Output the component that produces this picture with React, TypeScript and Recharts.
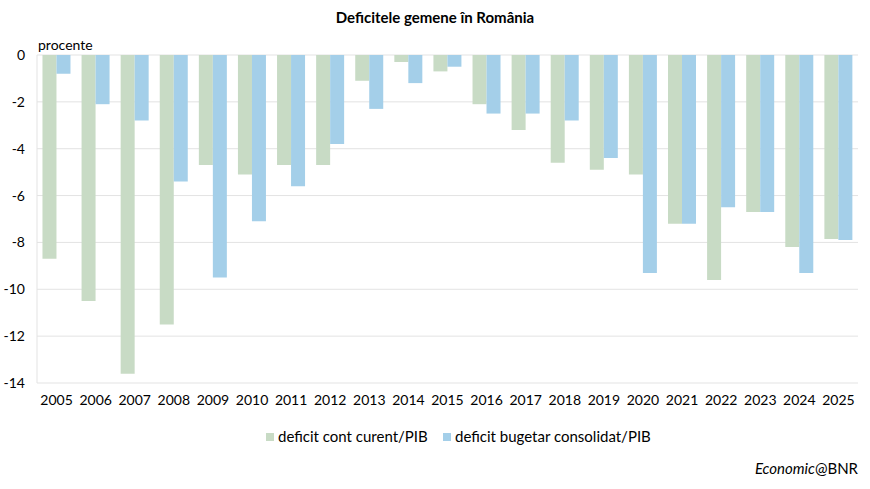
import React from "react";
import { BarChart, Bar, XAxis, YAxis, CartesianGrid } from "recharts";

const years = ["2005","2006","2007","2008","2009","2010","2011","2012","2013","2014","2015","2016","2017","2018","2019","2020","2021","2022","2023","2024","2025"];
const contCurent = [-8.7,-10.5,-13.6,-11.5,-4.7,-5.1,-4.7,-4.7,-1.1,-0.3,-0.7,-2.1,-3.2,-4.6,-4.9,-5.1,-7.2,-9.6,-6.7,-8.2,-7.85];
const bugetar = [-0.8,-2.1,-2.8,-5.4,-9.5,-7.1,-5.6,-3.8,-2.3,-1.2,-0.5,-2.5,-2.5,-2.8,-4.4,-9.3,-7.2,-6.5,-6.7,-9.3,-7.9];
const yTicks = [0,-2,-4,-6,-8,-10,-12,-14];
const seriesNames = ["deficit cont curent/PIB", "deficit bugetar consolidat/PIB"];
const colors = ["#c8dbc5", "#a4cfe9"];

const data = years.map((y, i) => ({ year: y, cc: contCurent[i], bg: bugetar[i] }));

const FONT = "Lato, 'Open Sans', sans-serif";

export default function App() {
  return (
    <div style={{ position: "absolute", left: 0, top: 0, width: 870, height: 489, background: "#fff", fontFamily: FONT, color: "#000" }}>
      <div style={{ position: "absolute", top: 8, left: 0, width: 870, textAlign: "center", fontWeight: 700, fontSize: 15 }}>
        Deficitele gemene în România
      </div>
      <div style={{ position: "absolute", top: 36, left: 38, fontSize: 14 }}>procente</div>
      <BarChart width={870} height={413} data={data} margin={{ top: 55, right: 12, left: 0, bottom: 0 }} barCategoryGap="14%" barGap={0}>
        <CartesianGrid vertical={false} stroke="#e3e3e3" />
        <XAxis dataKey="year" axisLine={false} tickLine={false} height={30} tick={{ fontSize: 14, fill: "#000", fontFamily: FONT }} tickMargin={6} interval={0} />
        <YAxis domain={[-14, 0]} ticks={yTicks} width={37} axisLine={{ stroke: "#e3e3e3" }} tickLine={false} tick={{ fontSize: 14, fill: "#000", fontFamily: FONT }} tickMargin={6} />
        <Bar dataKey="cc" name={seriesNames[0]} fill={colors[0]} isAnimationActive={false} />
        <Bar dataKey="bg" name={seriesNames[1]} fill={colors[1]} isAnimationActive={false} />
      </BarChart>
      <div style={{ position: "absolute", top: 427, left: 0, width: 870, fontSize: 15 }}>
        <div style={{ position: "absolute", left: 266, top: 6, width: 8, height: 8, background: colors[0] }} />
        <div style={{ position: "absolute", left: 278, top: 0 }}>{seriesNames[0]}</div>
        <div style={{ position: "absolute", left: 443, top: 6, width: 8, height: 8, background: colors[1] }} />
        <div style={{ position: "absolute", left: 455, top: 0 }}>{seriesNames[1]}</div>
      </div>
      <div style={{ position: "absolute", top: 459, right: 12, fontSize: 15 }}>
        <i>Economic</i>@BNR
      </div>
    </div>
  );
}
